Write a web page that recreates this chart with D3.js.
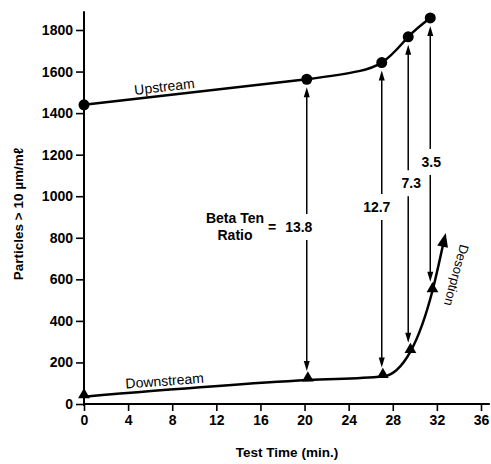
<!DOCTYPE html>
<html>
<head>
<meta charset="utf-8">
<script src="https://cdn.jsdelivr.net/npm/d3@7"></script>
<style>
  body { margin: 0; background: #fff; }
  text { font-family: "Liberation Sans", Arial, sans-serif; fill: #000; }
</style>
</head>
<body>
<div id="chart"></div>
<script>
// data
var upTime = [0, 20.2, 27.0, 29.4, 31.4];
var upCount = [1440, 1563, 1643, 1767, 1858];
var downTime = [0, 20.3, 27.1, 29.6, 31.6];
var downCount = [35, 115, 132, 252, 545];
var desorbEnd = [32.8, 823];
var ratioLabels = ["13.8", "12.7", "7.3", "3.5"];
var xTicks = [0, 4, 8, 12, 16, 20, 24, 28, 32, 36];
var yTicks = [0, 200, 400, 600, 800, 1000, 1200, 1400, 1600, 1800];

var svg = d3.select("#chart")
  .append("svg")
  .attr("width", 491)
  .attr("height", 464);

var x = d3.scaleLinear().domain([0, 36]).range([84, 481]);
var y = d3.scaleLinear().domain([0, 1800]).range([404, 30]);

// axis lines (longer than the tick range, as in the original)
svg.append("line")
  .attr("x1", x(0)).attr("x2", x(0))
  .attr("y1", y(1890)).attr("y2", y(0) + 2)
  .attr("stroke", "#000").attr("stroke-width", 2);
svg.append("line")
  .attr("x1", x(0) - 1).attr("x2", x(36.8))
  .attr("y1", y(0)).attr("y2", y(0))
  .attr("stroke", "#000").attr("stroke-width", 2);

var yAxis = svg.append("g")
  .attr("transform", "translate(" + x(0) + ",0)")
  .call(d3.axisLeft(y).tickValues(yTicks).tickFormat(d3.format("d"))
    .tickSize(8).tickPadding(3));
var xAxis = svg.append("g")
  .attr("transform", "translate(0," + y(0) + ")")
  .call(d3.axisBottom(x).tickValues(xTicks).tickFormat(d3.format("d"))
    .tickSize(7).tickPadding(4));

[xAxis, yAxis].forEach(function(g) {
  g.select(".domain").remove();
  g.selectAll(".tick line").attr("stroke", "#000").attr("stroke-width", 1.6);
  g.selectAll(".tick text")
    .attr("fill", "#000")
    .style("font-size", "14px")
    .style("font-weight", "bold")
    .style("font-family", "'Liberation Sans', Arial, sans-serif");
});

// axis titles
svg.append("text")
  .attr("x", 287).attr("y", 457)
  .style("text-anchor", "middle")
  .style("font-size", "13.5px")
  .style("font-weight", "bold")
  .text("Test Time (min.)");

svg.append("text")
  .attr("transform", "translate(23,214) rotate(-90)")
  .style("text-anchor", "middle")
  .style("font-size", "13.5px")
  .style("font-weight", "bold")
  .text("Particles > 10 \u00b5m/m\u2113");

// curves
var upPts = upTime.map(function(t, i) { return [t, upCount[i]]; });
var downPts = downTime.map(function(t, i) { return [t, downCount[i]]; });

var upLine = d3.line()
  .curve(d3.curveNatural)
  .x(function(d) { return x(d[0]); })
  .y(function(d) { return y(d[1]); });

var downLine = d3.line()
  .curve(d3.curveMonotoneX)
  .x(function(d) { return x(d[0]); })
  .y(function(d) { return y(d[1]); });

svg.append("path")
  .datum(upPts)
  .attr("d", upLine)
  .attr("fill", "none").attr("stroke", "#000").attr("stroke-width", 2.5);

// downstream line carries on into the desorption arrow
var tip = [x(desorbEnd[0]), y(desorbEnd[1])];
var last = downPts[downPts.length - 1];
var dx = tip[0] - x(last[0]), dy = tip[1] - y(last[1]);
var len = Math.sqrt(dx * dx + dy * dy);
var ux = dx / len, uy = dy / len;
var headLen = 14, headW = 5.5;

svg.append("path")
  .datum(downPts.concat([[x.invert(tip[0] - ux * headLen * 0.7), y.invert(tip[1] - uy * headLen * 0.7)]]))
  .attr("d", downLine)
  .attr("fill", "none").attr("stroke", "#000").attr("stroke-width", 2.5);

function arrowHead(px, py, ax, ay, L, W) {
  // tip at (px,py), pointing along (ax,ay)
  var bx = px - ax * L, by = py - ay * L;
  return "M" + px + "," + py +
    "L" + (bx - ay * W) + "," + (by + ax * W) +
    "L" + (bx + ay * W) + "," + (by - ax * W) + "Z";
}

svg.append("path")
  .attr("d", arrowHead(tip[0], tip[1], ux, uy, headLen, headW))
  .attr("fill", "#000");

// ratio arrows between upstream and downstream readings
var labelAt = [852, 948, 1063, 1165];   // label centre, in counts
var labelDx = [-8, -5, 3, 1];
var gap = 13;

ratioLabels.forEach(function(lab, k) {
  var i = k + 1;
  var ax = x(upTime[i]);
  var top = y(upCount[i]) + 8;
  var bot = y(downCount[i]) - 9;
  var mid = y(labelAt[k]);

  svg.append("line")
    .attr("x1", ax).attr("x2", ax)
    .attr("y1", top + 6).attr("y2", mid - gap)
    .attr("stroke", "#000").attr("stroke-width", 1.5);
  svg.append("line")
    .attr("x1", ax).attr("x2", ax)
    .attr("y1", mid + gap).attr("y2", bot - 6)
    .attr("stroke", "#000").attr("stroke-width", 1.5);
  svg.append("path").attr("d", arrowHead(ax, top, 0, -1, 10, 3)).attr("fill", "#000");
  svg.append("path").attr("d", arrowHead(ax, bot, 0, 1, 10, 3)).attr("fill", "#000");

  svg.append("text")
    .attr("x", ax + labelDx[k]).attr("y", mid + 5)
    .style("text-anchor", "middle")
    .style("font-size", "14px")
    .style("font-weight", "bold")
    .text(lab);
});

// "Beta Ten Ratio =" wording beside the first arrow
svg.append("text")
  .attr("x", 235).attr("y", 223)
  .style("text-anchor", "middle")
  .style("font-size", "14px").style("font-weight", "bold")
  .text("Beta Ten");
svg.append("text")
  .attr("x", 235).attr("y", 240)
  .style("text-anchor", "middle")
  .style("font-size", "14px").style("font-weight", "bold")
  .text("Ratio");
svg.append("text")
  .attr("x", 272).attr("y", y(labelAt[0]) + 5)
  .style("text-anchor", "middle")
  .style("font-size", "14px").style("font-weight", "bold")
  .text("=");

// markers
svg.selectAll(".up")
  .data(upPts)
  .enter().append("circle")
  .attr("cx", function(d) { return x(d[0]); })
  .attr("cy", function(d) { return y(d[1]); })
  .attr("r", 5.5)
  .attr("fill", "#000");

svg.selectAll(".down")
  .data(downPts)
  .enter().append("path")
  .attr("d", d3.symbol().type(d3.symbolTriangle).size(60))
  .attr("transform", function(d) { return "translate(" + x(d[0]) + "," + (y(d[1]) - 2) + ")"; })
  .attr("fill", "#000");

// series labels, tilted along their lines
function slopeDeg(p, q) {
  return Math.atan2(y(q[1]) - y(p[1]), x(q[0]) - x(p[0])) * 180 / Math.PI;
}

svg.append("text")
  .attr("transform", "translate(165," + (y(upCount[0] + (upCount[1] - upCount[0]) * (7.4 / upTime[1])) - 4) + ") rotate(" + slopeDeg(upPts[0], upPts[1]) + ")")
  .style("text-anchor", "middle")
  .style("font-size", "14px")
  .text("Upstream");

svg.append("text")
  .attr("transform", "translate(165," + (y(downCount[0] + (downCount[1] - downCount[0]) * (7.4 / downTime[1])) - 5) + ") rotate(" + slopeDeg(downPts[0], downPts[1]) + ")")
  .style("text-anchor", "middle")
  .style("font-size", "14px")
  .text("Downstream");

svg.append("text")
  .attr("transform", "translate(452,274) rotate(105)")
  .style("text-anchor", "middle")
  .style("font-size", "13px")
  .text("Desorption");
</script>
</body>
</html>
